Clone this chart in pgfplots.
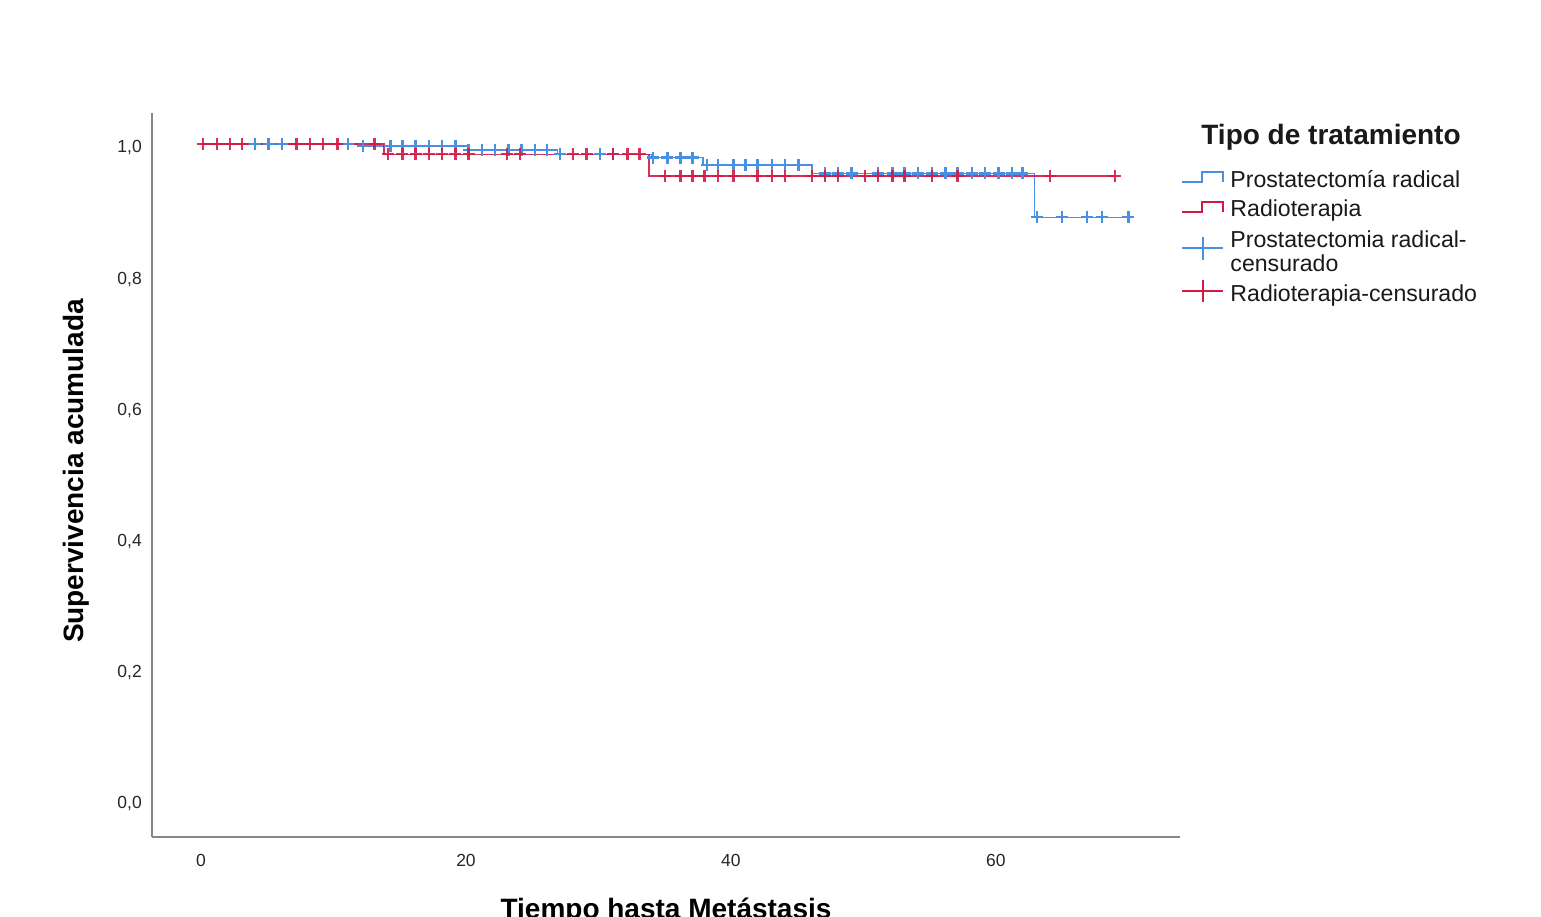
\documentclass[border=0pt]{standalone}
\usepackage{pgfplots}
\pgfplotsset{compat=1.18}
\usepackage{fontspec}
\setmainfont{Liberation Sans}
\definecolor{kmblue}{RGB}{74,144,226}
\definecolor{kmred}{RGB}{212,25,70}
\definecolor{axgray}{RGB}{135,135,135}

\begin{document}
\begin{tikzpicture}
\useasboundingbox (-152bp,-80bp) rectangle ++(1541bp,917bp);
\begin{axis}[
  name=ax, anchor=south west,
  width=1028bp, height=724bp, scale only axis,
  xmin=-3.7, xmax=73.9, ymin=-0.0564, ymax=1.047,
  axis x line=bottom, axis y line=left,
  axis line style={-, draw=axgray, line width=2bp},
  xtick={0,20,40,60},
  ytick={0,0.2,0.4,0.6,0.8,1},
  yticklabels={{0,0},{0,2},{0,4},{0,6},{0,8},{1,0}},
  major tick length=0pt,
  /pgf/number format/assume math mode=true,
  tick label style={font=\fontsize{17.5bp}{20bp}\selectfont, text=black!85},
  xticklabel style={anchor=base, yshift=-29bp},
  yticklabel style={anchor=east, inner sep=0pt, xshift=-10bp, yshift=-4bp},
  xlabel={Tiempo hasta Metástasis},
  ylabel={Supervivencia acumulada},
  xlabel style={at={(axis description cs:0.5,-0.1119)}, anchor=base, font=\fontsize{28bp}{32bp}\selectfont\bfseries},
  ylabel style={at={(axis description cs:-0.0671,0.5055)}, anchor=base, font=\fontsize{28bp}{32bp}\selectfont\bfseries},
  legend style={at={(axis description cs:1.00195,0.9213)}, anchor=north west,
    draw=none, fill=none, inner sep=0pt, outer sep=0pt, row sep=0pt,
    font=\fontsize{23.1bp}{24bp}\selectfont, text=black!90,
    cells={anchor=base west},
    nodes={inner xsep=7bp, inner ysep=0pt, text height=18bp, text depth=11bp}},
  clip=false,
]
% Step curves
\addplot[forget plot, const plot, kmblue, line width=1.6bp] coordinates {
 (0,1.000) (11.8,0.997) (20.1,0.991) (26.9,0.984) (34.0,0.979)
 (37.9,0.968) (46.1,0.955) (62.9,0.888) (70.0,0.888)};
\addplot[forget plot, const plot, kmred, line width=1.6bp, opacity=0.9] coordinates {
 (0,1.000) (13.8,0.984) (33.8,0.951) (69.0,0.951)};
% Censored marks
\addplot[forget plot, only marks, mark=+, mark size=6bp, kmblue, line width=2.3bp] coordinates {
 (4.1,1.000) (5.1,1.000) (6.1,1.000) (11.1,1.000)
 (12.2,0.997) (14.3,0.997) (15.2,0.997) (16.2,0.997) (17.2,0.997) (18.2,0.997) (19.2,0.997)
 (20.2,0.991) (21.2,0.991) (22.2,0.991) (23.2,0.991) (24.2,0.991) (25.2,0.991) (26.1,0.991)
 (27.1,0.984) (30.1,0.984) (31.1,0.984)
 (34.1,0.979) (35.2,0.979) (36.2,0.979) (37.1,0.979)
 (38.2,0.968) (39.0,0.968) (40.2,0.968) (41.1,0.968) (42.0,0.968) (43.1,0.968) (44.1,0.968) (45.1,0.968)
 (47.1,0.955) (48.1,0.955) (49.1,0.955) (51.1,0.955) (52.2,0.955) (53.1,0.955) (54.1,0.955)
 (55.2,0.955) (56.2,0.955) (57.1,0.955) (58.2,0.955) (59.2,0.955) (60.2,0.955) (61.2,0.955) (62.0,0.955)
 (63.1,0.888) (65.0,0.888) (66.9,0.888) (68.0,0.888) (70.0,0.888)};
\addplot[forget plot, only marks, mark=+, mark size=6bp, kmred, line width=2.3bp, opacity=0.9] coordinates {
 (0.15,1.000) (1.2,1.000) (2.2,1.000) (3.1,1.000) (7.2,1.000) (8.2,1.000) (9.2,1.000) (10.3,1.000) (13.1,1.000)
 (14.1,0.984) (15.2,0.984) (16.2,0.984) (17.2,0.984) (18.2,0.984) (19.2,0.984) (20.2,0.984)
 (23.1,0.984) (24.1,0.984) (28.1,0.984) (29.1,0.984) (31.1,0.984) (32.2,0.984) (33.1,0.984)
 (35.0,0.951) (36.2,0.951) (37.1,0.951) (38.0,0.951) (39.0,0.951) (40.2,0.951) (42.0,0.951)
 (43.1,0.951) (44.1,0.951) (46.1,0.951) (47.1,0.951) (48.1,0.951) (50.1,0.951) (51.1,0.951)
 (52.2,0.951) (53.1,0.951) (55.2,0.951) (57.1,0.951) (64.1,0.951) (69.0,0.951)};
% Legend
\addlegendimage{legend image code/.code={
  \draw[overlay, kmblue, line width=1.6bp] (0bp,6bp) -- (20bp,6bp) -- (20bp,16bp) -- (41bp,16bp) -- (41bp,6bp);
  \path (0bp,0bp) (41bp,0bp);}}
\addlegendentry[text depth=11bp]{Prostatectomía radical}
\addlegendimage{legend image code/.code={
  \draw[overlay, kmred, line width=1.6bp] (0bp,5bp) -- (20bp,5bp) -- (20bp,15bp) -- (41bp,15bp) -- (41bp,5bp);
  \path (0bp,0bp) (41bp,0bp);}}
\addlegendentry[text depth=13bp]{Radioterapia}
\addlegendimage{legend image code/.code={
  \draw[overlay, kmblue, line width=1.6bp] (0bp,0bp) -- (41bp,0bp) (20.5bp,-12bp) -- (20.5bp,11bp);
  \path (0bp,0bp) (41bp,0bp);}}
\addlegendentry[text depth=6bp]{Prostatectomia radical-}
\addlegendimage{legend image code/.code={\path (0bp,0bp) (41bp,0bp);}}
\addlegendentry[text depth=12bp]{censurado}
\addlegendimage{legend image code/.code={
  \draw[overlay, kmred, line width=1.6bp] (0bp,11bp) -- (41bp,11bp) (20.5bp,0bp) -- (20.5bp,22bp);
  \path (0bp,0bp) (41bp,0bp);}}
\addlegendentry[text depth=11bp]{Radioterapia-censurado}
\end{axis}
\node[anchor=base, font=\fontsize{28bp}{32bp}\selectfont\bfseries, text=black!90] at (1179bp,692bp) {Tipo de tratamiento};
\end{tikzpicture}
\end{document}
